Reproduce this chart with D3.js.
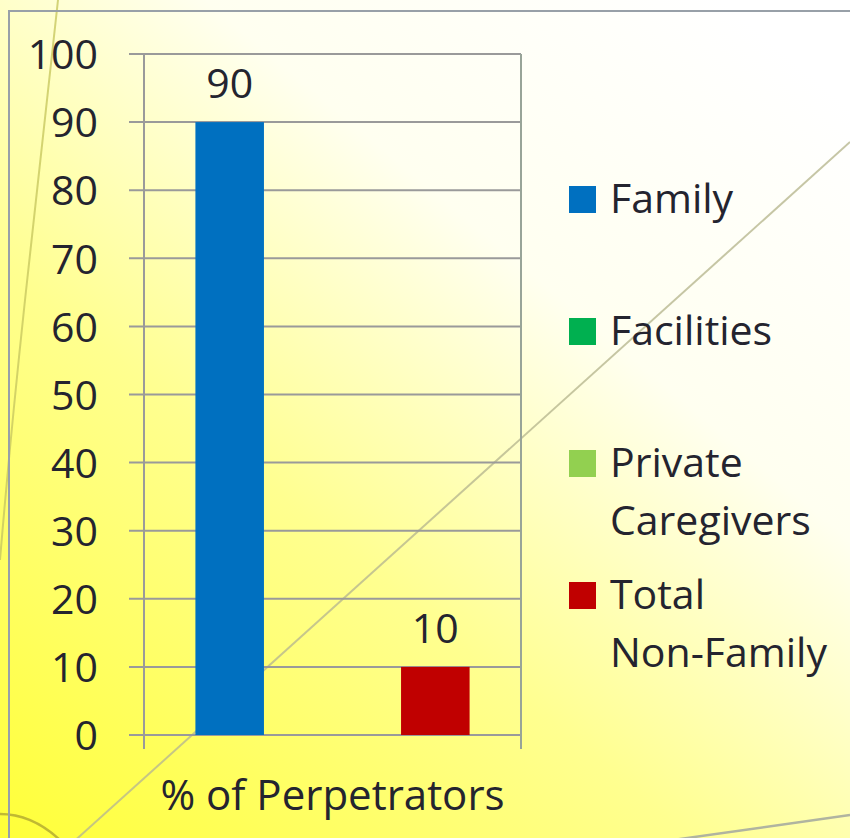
<!DOCTYPE html>
<html>
<head>
<meta charset="utf-8">
<script src="https://cdn.jsdelivr.net/npm/d3@7"></script>
<style>
  html, body { margin: 0; padding: 0; background: #fff; }
  svg { display: block; }
  text { font-family: "Open Sans", "Noto Sans", sans-serif; fill: #24242f; }
</style>
</head>
<body>
<script>
"use strict";

// chart data
var categories = ["% of Perpetrators"];
var seriesNames = ["Family", "Facilities", "Private Caregivers", "Total Non-Family"];
var seriesValues = [90, 0, 0, 10];
var seriesColors = ["#0070c0", "#00b050", "#92d050", "#c00000"];
var legendLines = [["Family"], ["Facilities"], ["Private", "Caregivers"], ["Total", "Non-Family"]];
var yTicks = [0, 10, 20, 30, 40, 50, 60, 70, 80, 90, 100];

window.onload = function() {
  var width = 850, height = 838;
  var fontSize = 41;
  var svg = d3.select("body").append("svg")
      .attr("width", width)
      .attr("height", height);

  // yellow slide background
  var defs = svg.append("defs");
  var grad = defs.append("linearGradient")
      .attr("id", "bg")
      .attr("x1", 0).attr("y1", 1).attr("x2", 0.85).attr("y2", 0);
  grad.append("stop").attr("offset", 0).attr("stop-color", "#ffff38");
  grad.append("stop").attr("offset", 0.4).attr("stop-color", "#ffff90");
  grad.append("stop").attr("offset", 0.7).attr("stop-color", "#fffff0");
  grad.append("stop").attr("offset", 1).attr("stop-color", "#ffffff");
  svg.append("rect").attr("width", width).attr("height", height).attr("fill", "url(#bg)");

  // decorative strokes
  var deco = svg.append("g").attr("fill", "none");
  deco.append("path").attr("d", "M58,0 Q40,160 25,300 T0,560")
      .attr("stroke", "#c8c860").attr("stroke-width", 2).attr("opacity", 0.8);
  deco.append("line").attr("x1", 70).attr("y1", 845).attr("x2", 850).attr("y2", 142)
      .attr("stroke", "#b8b890").attr("stroke-width", 2).attr("opacity", 0.8);
  deco.append("path").attr("d", "M0,814 Q35,814 65,845")
      .attr("stroke", "#b0a830").attr("stroke-width", 2.5).attr("opacity", 0.8);
  deco.append("line").attr("x1", 850).attr("y1", 815).attr("x2", 673).attr("y2", 840)
      .attr("stroke", "#b0b4a0").attr("stroke-width", 2.5);

  // chart frame
  svg.append("path").attr("d", "M9," + height + " V11 H" + width)
      .attr("fill", "none").attr("stroke", "#98a0a8").attr("stroke-width", 2);

  var plotLeft = 144, plotRight = 521, plotTop = 54, plotBottom = 735;

  var y = d3.scaleLinear().domain([0, 100]).range([plotBottom, plotTop]);
  var x0 = d3.scaleBand().domain(categories).range([plotLeft, plotRight]);
  var x1 = d3.scaleBand().domain(seriesNames).range([0, x0.bandwidth()])
      .paddingInner(0).paddingOuter(0.75);

  // gridlines
  svg.append("g").selectAll("line").data(yTicks).join("line")
      .attr("x1", plotLeft - 15).attr("x2", plotRight)
      .attr("y1", function(d) { return y(d); })
      .attr("y2", function(d) { return y(d); })
      .attr("stroke", "#9a9a9a").attr("stroke-width", 2);

  // y axis
  var yAxis = svg.append("g")
      .attr("transform", "translate(" + plotLeft + ",0)")
      .call(d3.axisLeft(y).tickValues(yTicks).tickSize(0).tickPadding(46));
  yAxis.select(".domain").remove();
  yAxis.selectAll("text")
      .attr("font-size", fontSize)
      .attr("font-family", "Open Sans, Noto Sans, sans-serif")
      .attr("fill", "#24242f")
      .attr("dy", "0.36em");

  // vertical axis lines at the category edges
  svg.append("g").selectAll("line").data([plotLeft, plotRight]).join("line")
      .attr("x1", function(d) { return d; }).attr("x2", function(d) { return d; })
      .attr("y1", plotTop).attr("y2", plotBottom + 14)
      .attr("stroke", function(d, i) { return i ? "#98a498" : "#9a9a9a"; })
      .attr("stroke-width", 2);

  // bars
  var bars = svg.append("g").selectAll("g").data(categories).join("g")
      .attr("transform", function(d) { return "translate(" + x0(d) + ",0)"; });
  bars.selectAll("rect").data(seriesNames).join("rect")
      .attr("x", function(d) { return x1(d); })
      .attr("width", x1.bandwidth())
      .attr("y", function(d, i) { return y(seriesValues[i]); })
      .attr("height", function(d, i) { return plotBottom - y(seriesValues[i]); })
      .attr("fill", function(d, i) { return seriesColors[i]; });

  // data labels
  bars.selectAll("text").data(seriesNames.filter(function(d, i) { return seriesValues[i] > 0; }))
      .join("text")
      .attr("x", function(d) { return x1(d) + x1.bandwidth() / 2; })
      .attr("y", function(d) { return y(seriesValues[seriesNames.indexOf(d)]) - 24; })
      .attr("text-anchor", "middle")
      .attr("font-size", fontSize)
      .text(function(d) { return seriesValues[seriesNames.indexOf(d)]; });

  // category label
  svg.append("g").selectAll("text").data(categories).join("text")
      .attr("x", function(d) { return x0(d) + x0.bandwidth() / 2; })
      .attr("y", 810)
      .attr("text-anchor", "middle")
      .attr("font-size", fontSize + 1)
      .text(function(d) { return d; });

  // legend
  var legendTops = [186, 318, 450, 582];
  var legend = svg.append("g").selectAll("g").data(seriesNames).join("g")
      .attr("transform", function(d, i) { return "translate(569," + legendTops[i] + ")"; });
  legend.append("rect")
      .attr("width", 27).attr("height", 27)
      .attr("fill", function(d, i) { return seriesColors[i]; });
  legend.append("text")
      .attr("x", 41)
      .attr("y", 27)
      .attr("font-size", fontSize)
      .selectAll("tspan").data(function(d, i) { return legendLines[i]; }).join("tspan")
      .attr("x", 41)
      .attr("dy", function(d, i) { return i ? 58 : 0; })
      .text(function(d) { return d; });
};
</script>
</body>
</html>
